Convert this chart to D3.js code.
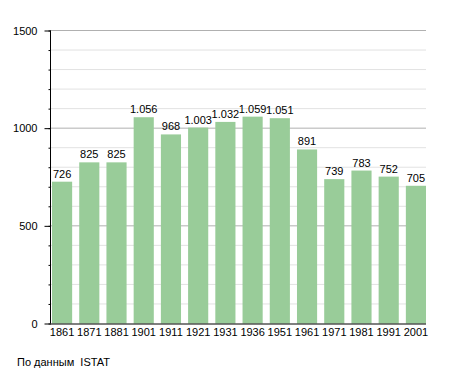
<!DOCTYPE html>
<meta charset="utf-8">
<style>
  body { margin: 0; background: #fff; }
  text { font-family: "Liberation Sans", Arial, sans-serif; font-size: 11px; fill: #000; }
</style>
<script src="https://cdn.jsdelivr.net/npm/d3@7"></script>
<svg id="graph" width="455" height="373"></svg>
<script>

var years = ["1861", "1871", "1881", "1901", "1911", "1921", "1931", "1936", "1951", "1961", "1971", "1981", "1991", "2001"];
var population = [726, 825, 825, 1056, 968, 1003, 1032, 1059, 1051, 891, 739, 783, 752, 705];
var yTicks = [0, 500, 1000, 1500];

var svg = d3.select("#graph");

var x = d3.scaleBand().domain(years).range([52, 426]).paddingInner(0.26).paddingOuter(0);
var y = d3.scaleLinear().domain([0, 1500]).range([323.5, 30.5]);

var fmt = function(v) { return d3.format(",")(v).replace(/,/g, "."); };

// grid lines, every 100, darker every 500
var grid = svg.append("g");
d3.range(100, 1501, 100).forEach(function(v) {
  grid.append("line")
      .attr("x1", 50).attr("x2", 426)
      .attr("y1", y(v)).attr("y2", y(v))
      .attr("stroke", v % 500 == 0 ? "#b0b0b0" : "#e2e2e2")
      .attr("stroke-width", 1);
});

// bars
svg.append("g").selectAll("rect")
    .data(population)
  .enter().append("rect")
    .attr("x", function(d, i) { return x(years[i]); })
    .attr("y", function(d) { return y(d); })
    .attr("width", x.bandwidth())
    .attr("height", function(d) { return y(0) - y(d); })
    .attr("fill", "#99cc99");

// value labels
svg.append("g").selectAll("text")
    .data(population)
  .enter().append("text")
    .attr("x", function(d, i) { return x(years[i]) + x.bandwidth() / 2; })
    .attr("y", function(d) { return y(d) - 4; })
    .attr("text-anchor", "middle")
    .text(function(d) { return fmt(d); });

// y axis: minor ticks every 100
var yAxis = svg.append("g").attr("transform", "translate(50.5,0)");
yAxis.call(d3.axisLeft(y).tickValues(d3.range(0, 1501, 100)).tickSize(2).tickFormat(""))
  .call(function(g) { g.select(".domain").remove(); });
yAxis.append("g")
    .call(d3.axisLeft(y).tickValues(yTicks).tickSize(6).tickPadding(7).tickFormat(d3.format("d")))
  .call(function(g) {
    g.select(".domain").attr("d", "M0," + y(1500) + "V" + y(0));
    g.selectAll("text").style("font-family", "Liberation Sans, Arial, sans-serif").style("font-size", "11px").attr("fill", "#000");
  });

// x axis
var xAxis = svg.append("g").attr("transform", "translate(0," + (y(0) + 0.5) + ")");
xAxis.call(d3.axisBottom(x).tickSize(0).tickPadding(4))
  .call(function(g) {
    g.select(".domain").attr("d", "M50,0H426");
    g.selectAll("text").style("font-family", "Liberation Sans, Arial, sans-serif").style("font-size", "11px").attr("fill", "#000");
  });

svg.append("text")
    .attr("x", 17)
    .attr("y", 366)
    .text("По данным  ISTAT")
    .attr("xml:space", "preserve")
    .style("white-space", "pre");

</script>
